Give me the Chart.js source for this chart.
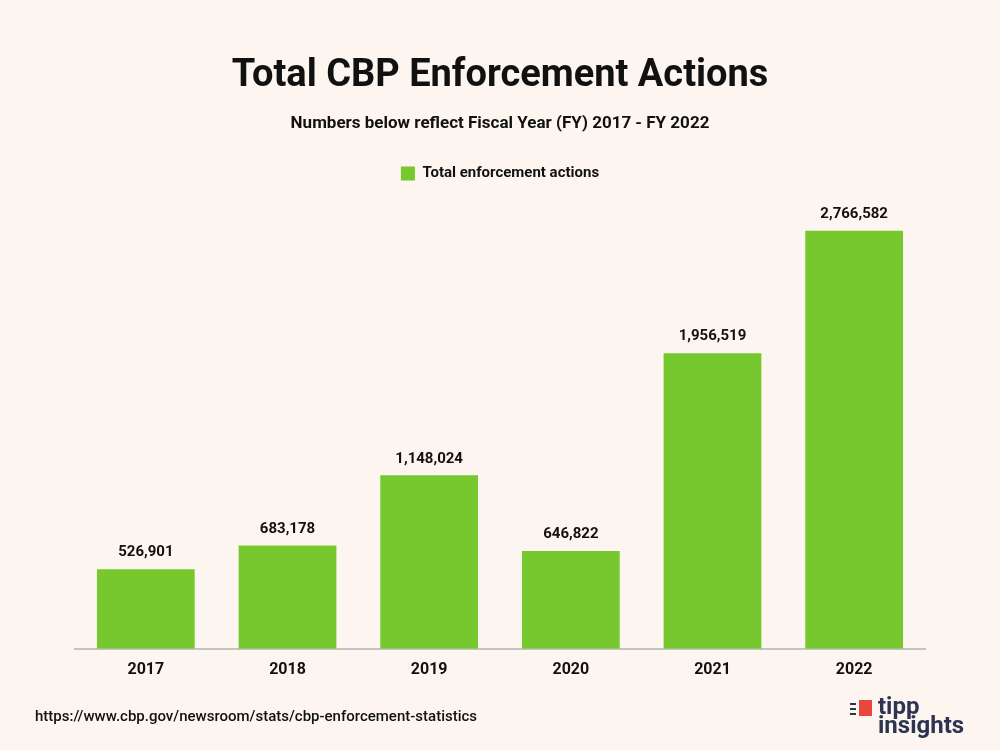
<!DOCTYPE html>
<html>
<head>
<meta charset="utf-8">
<script src="https://cdn.jsdelivr.net/npm/chart.js@4.4.0/dist/chart.umd.min.js"></script>
<style>
  html, body { margin: 0; padding: 0; background: #fdf6f0; }
  #wrap { position: relative; width: 1000px; height: 750px; }
  #source { position: absolute; left: 35px; top: 707px; font: 500 15px Roboto, sans-serif; color: #111; }
  #logo { position: absolute; left: 878px; top: 697px; font: 700 24px Roboto, sans-serif; color: #2d3452; line-height: 19px; }
  #logo .mark { position: absolute; left: -19px; top: 3px; width: 13px; height: 16px; background: #e8473e; }
  #logo .ray { position: absolute; left: -28px; width: 6px; height: 2px; background: #2d3452; }
</style>
</head>
<body>
<div id="wrap">
  <canvas id="grafico" width="1000" height="750"></canvas>
  <div id="source">https://www.cbp.gov/newsroom/stats/cbp-enforcement-statistics</div>
  <div id="logo"><span class="ray" style="top:6px"></span><span class="ray" style="top:11px"></span><span class="ray" style="top:16px"></span><span class="mark"></span>tipp<br>insights</div>
</div>
<script>
// datos
const anios = ['2017', '2018', '2019', '2020', '2021', '2022'];
const acciones = [526901, 683178, 1148024, 646822, 1956519, 2766582];
const nombreSerie = 'Total enforcement actions';

const verde = '#76c82e';
const fuente = 'Roboto, "Noto Sans", sans-serif';

// etiquetas encima de cada barra
const etiquetas = {
    id: 'etiquetas',
    afterDatasetsDraw(chart) {
        const ctx = chart.ctx;
        const meta = chart.getDatasetMeta(0);
        ctx.save();
        ctx.font = 'bold 15px ' + fuente;
        ctx.fillStyle = '#111';
        ctx.textAlign = 'center';
        ctx.textBaseline = 'bottom';
        meta.data.forEach((bar, i) => {
            ctx.fillText(acciones[i].toLocaleString('en-US'), bar.x, bar.y - 9);
        });
        ctx.restore();
    }
};

new Chart(document.getElementById('grafico'), {
    type: 'bar',
    data: {
        labels: anios,
        datasets: [{
            label: nombreSerie,
            data: acciones,
            backgroundColor: verde,
            borderWidth: 0,
            categoryPercentage: 0.69,
            barPercentage: 1
        }]
    },
    options: {
        responsive: false,
        animation: false,
        layout: { padding: { left: 75, right: 75, top: 0, bottom: 58 } },
        scales: {
            x: {
                grid: { display: false, drawTicks: false },
                border: { display: true, color: '#c4c4c4', width: 2 },
                ticks: { color: '#111', font: { family: fuente, size: 16, weight: 'bold' }, padding: 12 }
            },
            y: {
                display: false,
                min: 0,
                max: 3030000
            }
        },
        plugins: {
            title: {
                display: true,
                text: 'Total CBP Enforcement Actions',
                color: '#111',
                font: { family: fuente, size: 38, weight: 'bold' },
                padding: { top: 54, bottom: 14 }
            },
            subtitle: {
                display: true,
                text: 'Numbers below reflect Fiscal Year (FY) 2017 - FY 2022',
                color: '#111',
                font: { family: fuente, size: 17, weight: 'bold' },
                padding: { bottom: 22 }
            },
            legend: {
                display: true,
                labels: {
                    color: '#111',
                    boxWidth: 14,
                    boxHeight: 14,
                    padding: 10,
                    font: { family: fuente, size: 15, weight: 'bold' }
                }
            },
            tooltip: { enabled: false }
        }
    },
    plugins: [etiquetas]
});
</script>
</body>
</html>
